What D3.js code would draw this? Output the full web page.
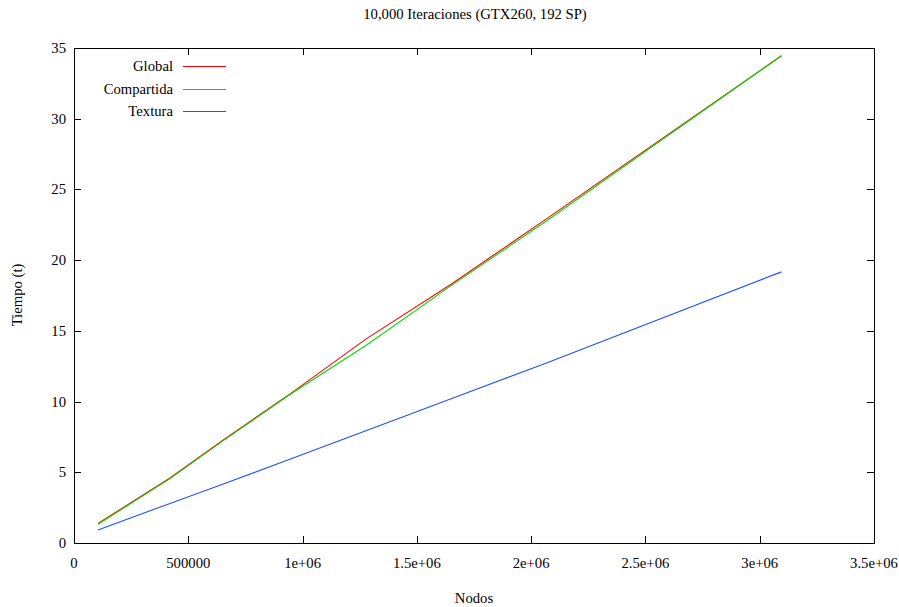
<!DOCTYPE html>
<html>
<head>
<meta charset="utf-8">
<script src="https://cdn.jsdelivr.net/npm/d3@7"></script>
<style>
  body { margin: 0; background: #fff; }
  text { font-family: "Liberation Serif", "DejaVu Serif", serif; font-size: 14.7px; fill: #000; }
</style>
</head>
<body>
<script>
// data
const nodos = [105000, 420000, 650000, 950000, 1280000, 1650000, 2070000, 3095000];
const global = [1.38, 4.6, 7.25, 10.6, 14.45, 18.3, 22.95, 34.45];
const compartida = [1.32, 4.55, 7.2, 10.55, 14.0, 18.2, 22.8, 34.45];
const textura = [0.92, 2.8, 4.15, 5.95, 7.95, 10.2, 12.75, 19.17];

const seriesNames = ["Global", "Compartida", "Textura"];
const seriesColors = ["#ff0000", "#00dd00", "#2050ff"];
const seriesValues = [global, compartida, textura];

const xTicks = [0, 500000, 1000000, 1500000, 2000000, 2500000, 3000000, 3500000];
const xTickLabels = ["0", "500000", "1e+06", "1.5e+06", "2e+06", "2.5e+06", "3e+06", "3.5e+06"];
const yTicks = [0, 5, 10, 15, 20, 25, 30, 35];

const width = 899, height = 607;
const plotLeft = 74, plotRight = 874, plotTop = 48, plotBottom = 543;

const svg = d3.select("body").append("svg")
  .attr("width", width)
  .attr("height", height);

const x = d3.scaleLinear().domain([0, 3500000]).range([plotLeft, plotRight]);
const y = d3.scaleLinear().domain([0, 35]).range([plotBottom, plotTop]);

// ticks (inward, mirrored)
const tickLen = 7;
const ticks = svg.append("g").attr("stroke", "#000").attr("stroke-width", 1);
xTicks.forEach(v => {
  const px = Math.round(x(v)) + 0.5;
  ticks.append("line").attr("x1", px).attr("x2", px).attr("y1", plotBottom).attr("y2", plotBottom - tickLen);
  ticks.append("line").attr("x1", px).attr("x2", px).attr("y1", plotTop).attr("y2", plotTop + tickLen);
});
yTicks.forEach(v => {
  const py = Math.round(y(v)) + 0.5;
  ticks.append("line").attr("x1", plotLeft).attr("x2", plotLeft + tickLen).attr("y1", py).attr("y2", py);
  ticks.append("line").attr("x1", plotRight).attr("x2", plotRight - tickLen).attr("y1", py).attr("y2", py);
});

// tick labels
svg.append("g").selectAll("text")
  .data(xTicks)
  .enter().append("text")
  .attr("x", d => x(d))
  .attr("y", 568)
  .attr("text-anchor", "middle")
  .text((d, i) => xTickLabels[i]);

svg.append("g").selectAll("text")
  .data(yTicks)
  .enter().append("text")
  .attr("x", 66)
  .attr("y", d => y(d) + 5)
  .attr("text-anchor", "end")
  .text(d => d);

// series lines
const line = d3.line()
  .x((d, i) => x(nodos[i]))
  .y(d => y(d));

seriesValues.forEach((vals, k) => {
  svg.append("path")
    .datum(vals)
    .attr("fill", "none")
    .attr("stroke", seriesColors[k])
    .attr("stroke-width", 1.1)
    .attr("d", line);
});

// frame
svg.append("rect")
  .attr("x", plotLeft + 0.5).attr("y", plotTop + 0.5)
  .attr("width", plotRight - plotLeft).attr("height", plotBottom - plotTop)
  .attr("fill", "none")
  .attr("stroke", "#000")
  .attr("stroke-width", 1);

// legend
seriesNames.forEach((name, k) => {
  const ly = 66 + k * 22.5;
  svg.append("text")
    .attr("x", 173)
    .attr("y", ly + 5)
    .attr("text-anchor", "end")
    .text(name);
  svg.append("line")
    .attr("x1", 183).attr("x2", 226)
    .attr("y1", Math.round(ly) + 0.5).attr("y2", Math.round(ly) + 0.5)
    .attr("stroke", seriesColors[k])
    .attr("stroke-width", 1.1);
});

// title and axis labels
svg.append("text")
  .attr("x", 475).attr("y", 19)
  .attr("text-anchor", "middle")
  .text("10,000 Iteraciones (GTX260, 192 SP)");

svg.append("text")
  .attr("x", 474).attr("y", 603)
  .attr("text-anchor", "middle")
  .text("Nodos");

svg.append("text")
  .attr("transform", "translate(22,295) rotate(-90)")
  .attr("text-anchor", "middle")
  .text("Tiempo (t)");
</script>
</body>
</html>
